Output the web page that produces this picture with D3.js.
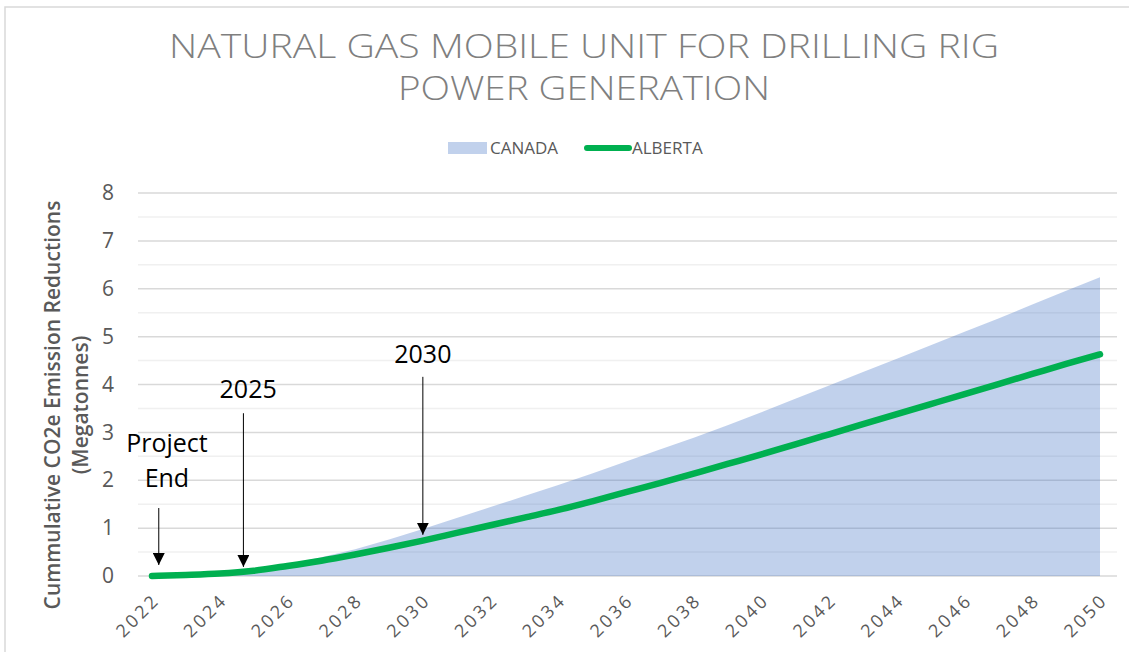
<!DOCTYPE html>
<meta charset="UTF-8">
<title>Natural Gas Mobile Unit for Drilling Rig Power Generation</title>
<style>
  html, body { margin: 0; background: #fff; overflow: hidden; }
  svg { display: block; }
  text { font-family: "Open Sans", "DejaVu Sans", sans-serif; }
</style>
<svg width="1129" height="652"></svg>
<script src="https://d3js.org/d3.v7.min.js"></script>
<script>
var years = d3.range(2022, 2051);
var canada = [0.00, 0.02, 0.05, 0.12, 0.24, 0.39, 0.56, 0.76, 0.98, 1.21,
              1.44, 1.67, 1.90, 2.14, 2.39, 2.64, 2.89, 3.15, 3.42, 3.70,
              3.98, 4.26, 4.54, 4.82, 5.10, 5.38, 5.67, 5.96, 6.24];
var alberta = [0.00, 0.02, 0.05, 0.11, 0.21, 0.32, 0.45, 0.59, 0.74, 0.90,
               1.06, 1.22, 1.38, 1.56, 1.75, 1.94, 2.14, 2.34, 2.54, 2.75,
               2.96, 3.17, 3.38, 3.59, 3.80, 4.01, 4.22, 4.43, 4.63];
var yTicks = [0, 1, 2, 3, 4, 5, 6, 7, 8];
var xTickYears = d3.range(2022, 2051, 2);
var titleLines = ["NATURAL GAS MOBILE UNIT FOR DRILLING RIG", "POWER GENERATION"];
var seriesNames = ["CANADA", "ALBERTA"];
var yTitle = ["Cummulative CO2e Emission Reductions", "(Megatonnes)"];

// annotations: label lines, where the label sits, where the arrow is
var notes = [
  {lines: ["Project", "End"], labelYear: 2022.44, labelValue: 1.86, year: 2022.2, top: 1.42, tip: 0.23},
  {lines: ["2025"], labelYear: 2024.84, labelValue: 3.72, year: 2024.7, top: 3.40, tip: 0.19},
  {lines: ["2030"], labelYear: 2030.0, labelValue: 4.45, year: 2030.0, top: 4.16, tip: 0.86}
];

var svg = d3.select("svg");
var plotLeft = 138, plotRight = 1117;

var x = d3.scaleLinear().domain([2022, 2050]).range([152, 1100]);
var y = d3.scaleLinear().domain([0, 8]).range([576, 193]);

// outer chart border, only top and left are inside the picture
svg.append("path")
    .attr("d", "M5,660V7H1129")
    .attr("fill", "none")
    .attr("stroke", "#d9d9d9")
    .attr("stroke-width", 1.5);

// title
svg.selectAll(".title")
  .data(titleLines)
  .enter().append("text")
    .attr("class", "title")
    .attr("x", 584)
    .attr("y", function(d, i) { return 58 + i * 42; })
    .attr("text-anchor", "middle")
    .attr("fill", "#7f7f7f")
    .attr("font-size", 33)
    .attr("font-weight", 300)
    .attr("textLength", function(d, i) { return i == 0 ? 830 : 372; })
    .attr("lengthAdjust", "spacingAndGlyphs")
    .text(function(d) { return d; });

// legend
var legend = svg.append("g");
legend.append("rect")
    .attr("x", 448).attr("y", 142)
    .attr("width", 39).attr("height", 12)
    .attr("fill", "#4472c4")
    .attr("fill-opacity", 0.33);
legend.append("text")
    .attr("x", 490).attr("y", 154)
    .attr("fill", "#595959")
    .attr("font-size", 17)
    .text(seriesNames[0]);
legend.append("line")
    .attr("x1", 587).attr("x2", 629)
    .attr("y1", 148).attr("y2", 148)
    .attr("stroke", "#00b050")
    .attr("stroke-width", 6)
    .attr("stroke-linecap", "round");
legend.append("text")
    .attr("x", 632).attr("y", 154)
    .attr("fill", "#595959")
    .attr("font-size", 17)
    .text(seriesNames[1]);

// gridlines (minor halves and major units)
var grid = svg.append("g");
grid.selectAll(".minor")
  .data(d3.range(0.5, 8, 1))
  .enter().append("line")
    .attr("x1", plotLeft).attr("x2", plotRight)
    .attr("y1", function(d) { return y(d); })
    .attr("y2", function(d) { return y(d); })
    .attr("stroke", "#f0f0f0")
    .attr("stroke-width", 1.5);
grid.selectAll(".major")
  .data(yTicks)
  .enter().append("line")
    .attr("x1", plotLeft).attr("x2", plotRight)
    .attr("y1", function(d) { return y(d); })
    .attr("y2", function(d) { return y(d); })
    .attr("stroke", "#d9d9d9")
    .attr("stroke-width", 1.5);

// y axis labels
svg.append("g")
    .attr("transform", "translate(122,0)")
    .call(d3.axisLeft(y).tickValues(yTicks).tickSize(0).tickPadding(8))
    .call(function(g) { g.select(".domain").remove(); })
    .selectAll("text")
    .attr("fill", "#595959")
    .attr("font-size", 21)
    .attr("font-family", "\"Open Sans\", sans-serif");

// y title
svg.selectAll(".ytitle")
  .data(yTitle)
  .enter().append("text")
    .attr("transform", function(d, i) {
      return "translate(" + (60 + i * 28) + ",405) rotate(-90)";
    })
    .attr("text-anchor", "middle")
    .attr("fill", "#595959")
    .attr("font-size", 21)
    .attr("font-weight", 600)
    .text(function(d) { return d; });

// x axis labels
svg.selectAll(".xlab")
  .data(xTickYears)
  .enter().append("text")
    .attr("transform", function(d) {
      return "translate(" + (x(d) + 9) + ",601) rotate(-45)";
    })
    .attr("text-anchor", "end")
    .attr("fill", "#595959")
    .attr("font-size", 18)
    .attr("letter-spacing", 3)
    .text(function(d) { return d; });

// canada area
var area = d3.area()
    .x(function(d, i) { return x(years[i]); })
    .y0(y(0))
    .y1(function(d) { return y(d); });

svg.append("path")
    .datum(canada)
    .attr("fill", "#4472c4")
    .attr("fill-opacity", 0.33)
    .attr("d", area);

// alberta line
var line = d3.line()
    .curve(d3.curveMonotoneX)
    .x(function(d, i) { return x(years[i]); })
    .y(function(d) { return y(d); });

svg.append("path")
    .datum(alberta)
    .attr("fill", "none")
    .attr("stroke", "#00b050")
    .attr("stroke-width", 6.5)
    .attr("stroke-linecap", "round")
    .attr("stroke-linejoin", "round")
    .attr("d", line);

// annotations
svg.append("defs").append("marker")
    .attr("id", "arrow")
    .attr("viewBox", "0 0 10 10")
    .attr("refX", 10).attr("refY", 5)
    .attr("markerWidth", 12).attr("markerHeight", 12)
    .attr("markerUnits", "userSpaceOnUse")
    .attr("orient", "auto")
  .append("path")
    .attr("d", "M0,0L10,5L0,10Z")
    .attr("fill", "#000");

var note = svg.selectAll(".note")
  .data(notes)
  .enter().append("g");

note.append("line")
    .attr("x1", function(d) { return x(d.year); })
    .attr("x2", function(d) { return x(d.year); })
    .attr("y1", function(d) { return y(d.top); })
    .attr("y2", function(d) { return y(d.tip); })
    .attr("stroke", "#000")
    .attr("stroke-width", 1)
    .attr("marker-end", "url(#arrow)");

note.each(function(d) {
  var n = d.lines.length;
  d3.select(this).selectAll("text")
    .data(d.lines)
    .enter().append("text")
      .attr("x", x(d.labelYear))
      .attr("y", function(t, i) { return y(d.labelValue) - (n - 1 - i) * 35; })
      .attr("text-anchor", "middle")
      .attr("fill", "#000")
      .attr("font-size", 25)
      .text(function(t) { return t; });
});
</script>
